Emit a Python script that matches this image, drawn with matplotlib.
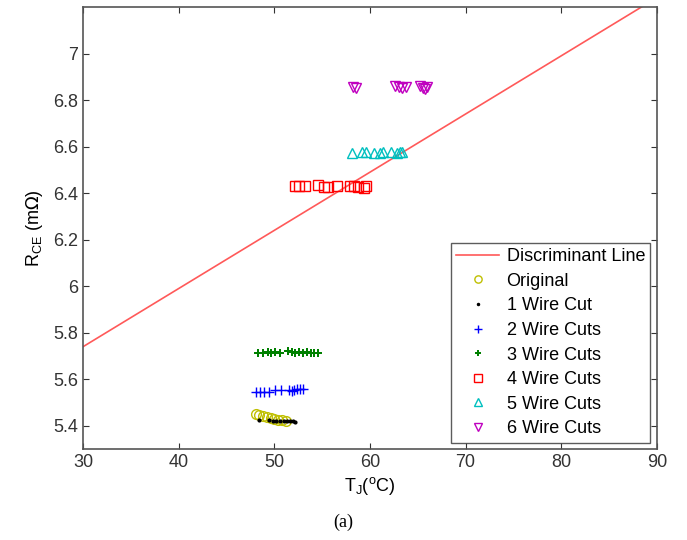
import numpy as np
import matplotlib
matplotlib.use("Agg")
import matplotlib.pyplot as plt

plt.rcParams['font.family'] = ['Liberation Sans', 'DejaVu Sans']

# discriminant line endpoints
line_x = [30, 90]
line_y = [5.74, 7.24]

orig_x = [48.1, 48.4, 48.8, 49.2, 49.6, 50.0, 50.4, 50.8, 51.2]
orig_y = [5.452, 5.447, 5.441, 5.437, 5.432, 5.428, 5.426, 5.424, 5.422]

cut1_x = [48.4, 49.4, 49.9, 50.2, 50.6, 51.0, 51.3, 51.6, 51.9, 52.2]
cut1_y = [5.425, 5.423, 5.422, 5.421, 5.421, 5.420, 5.421, 5.420, 5.419, 5.418]

cut2_x = [48.1, 48.5, 48.9, 49.4, 50.1, 50.7, 51.5, 51.8, 52.1, 52.4, 52.7, 53.0]
cut2_y = [5.545, 5.546, 5.547, 5.543, 5.552, 5.552, 5.555, 5.550, 5.553, 5.556, 5.558, 5.560]

cut3_x = [48.3, 48.8, 49.3, 49.7, 50.1, 50.6, 51.4, 51.8, 52.2, 52.6, 53.0, 53.4, 53.8, 54.2, 54.6]
cut3_y = [5.712, 5.714, 5.716, 5.713, 5.715, 5.712, 5.720, 5.716, 5.713, 5.715, 5.712, 5.716, 5.714, 5.713, 5.712]

cut4_x = [52.2, 52.6, 53.2, 54.6, 55.2, 55.6, 56.6, 57.9, 58.3, 58.8, 59.4, 59.6]
cut4_y = [6.432, 6.430, 6.432, 6.433, 6.428, 6.426, 6.430, 6.432, 6.430, 6.428, 6.422, 6.430]

cut5_x = [58.1, 59.2, 59.6, 60.4, 61.0, 61.4, 62.2, 62.8, 63.1, 63.4]
cut5_y = [6.573, 6.578, 6.576, 6.574, 6.574, 6.576, 6.578, 6.574, 6.577, 6.575]

cut6_x = [58.2, 58.5, 62.6, 63.0, 63.4, 63.8, 65.2, 65.5, 65.8, 66.0]
cut6_y = [6.856, 6.854, 6.860, 6.856, 6.852, 6.858, 6.862, 6.852, 6.848, 6.856]

fig = plt.figure(figsize=(6.87, 5.40), dpi=100)
ax = fig.add_axes([0.121, 0.1685, 0.835, 0.8185])

ax.plot(line_x, line_y, color=(1, 0.35, 0.35), lw=1.2, label='Discriminant Line')
ax.plot(orig_x, orig_y, 'o', ls='none', mfc='none', mec=(0.75, 0.75, 0.0), ms=7, mew=1, label='Original')
ax.plot(cut1_x, cut1_y, '.', ls='none', color='black', ms=4, label='1 Wire Cut')
ax.plot(cut2_x, cut2_y, '+', ls='none', color='blue', ms=7, mew=1, label='2 Wire Cuts')
ax.plot(cut3_x, cut3_y, 'P', ls='none', color=(0.0, 0.5, 0.0), ms=6, mew=0, label='3 Wire Cuts')
ax.plot(cut4_x, cut4_y, 's', ls='none', mfc='none', mec='red', ms=7, mew=1, label='4 Wire Cuts')
ax.plot(cut5_x, cut5_y, '^', ls='none', mfc='none', mec=(0.0, 0.75, 0.75), ms=7, mew=1, label='5 Wire Cuts')
ax.plot(cut6_x, cut6_y, 'v', ls='none', mfc='none', mec=(0.75, 0.0, 0.75), ms=7, mew=1, label='6 Wire Cuts')

ax.set_xlim(30, 90)
ax.set_ylim(5.3, 7.2)
ax.set_xticks(np.arange(30, 91, 10))
ax.set_yticks([5.4, 5.6, 5.8, 6.0, 6.2, 6.4, 6.6, 6.8, 7.0])
ax.set_yticklabels(['5.4', '5.6', '5.8', '6', '6.2', '6.4', '6.6', '6.8', '7'])
ax.tick_params(direction='in', length=4, labelsize=13, top=True, right=True, colors='#333333')
for s in ax.spines.values():
    s.set_color('#555555')
    s.set_linewidth(1.2)

ax.set_xlabel(r'T$_\mathregular{J}$($^\mathregular{o}$C)', fontsize=13, labelpad=3)
ax.set_ylabel(r'R$_\mathregular{CE}$ (m$\Omega$)', fontsize=13, labelpad=6)

leg = ax.legend(loc='lower right', fontsize=13, frameon=True, fancybox=False,
                edgecolor='#333333', borderaxespad=0.35, handlelength=2.4,
                labelspacing=0.42, borderpad=0.3, markerscale=0.75,
                handletextpad=0.4)
leg.get_frame().set_linewidth(1.0)

fig.text(0.5, 0.025, '(a)', ha='center', fontsize=13, family='Liberation Serif')

fig.savefig('out.png', dpi=100)
